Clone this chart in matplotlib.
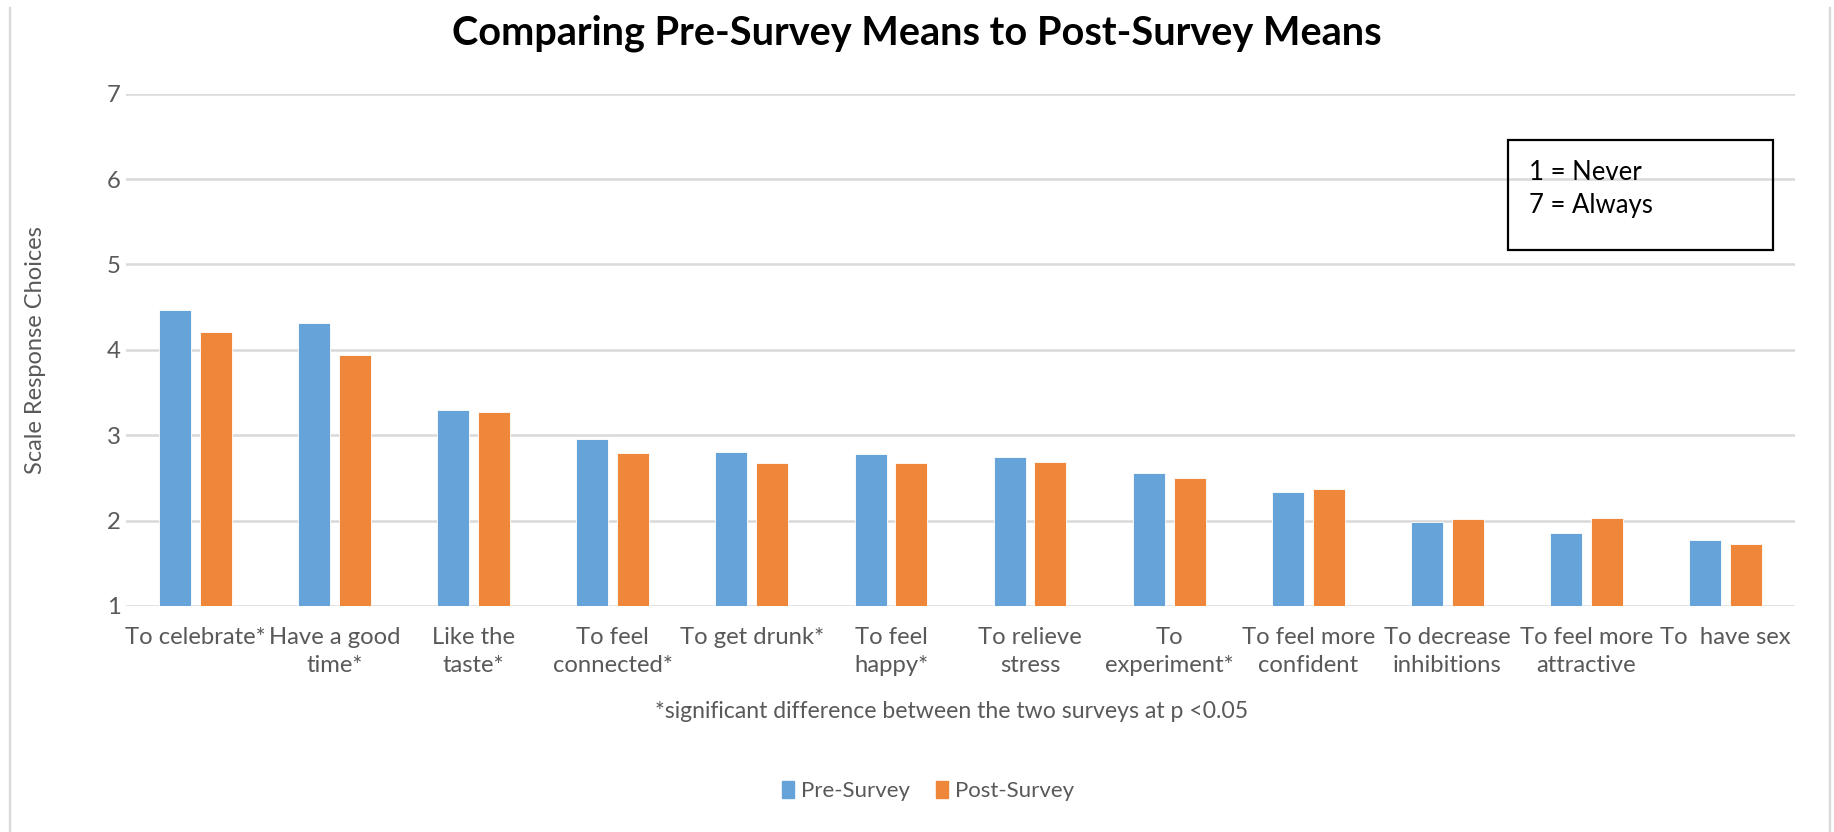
import numpy as np
import matplotlib
matplotlib.use("Agg")
import matplotlib.pyplot as plt
from matplotlib.patches import Rectangle
from matplotlib.lines import Line2D

plt.rcParams['font.family'] = ['Lato', 'DejaVu Sans']

categories = ["To celebrate*", "Have a good\ntime*", "Like the\ntaste*", "To feel\nconnected*",
              "To get drunk*", "To feel\nhappy*", "To relieve\nstress", "To\nexperiment*",
              "To feel more\nconfident", "To decrease\ninhibitions", "To feel more\nattractive",
              "To  have sex"]
pre_survey = [4.47, 4.31, 3.30, 2.95, 2.80, 2.78, 2.74, 2.56, 2.33, 1.98, 1.86, 1.77]
post_survey = [4.21, 3.94, 3.27, 2.79, 2.68, 2.68, 2.69, 2.50, 2.37, 2.02, 2.03, 1.73]
series_names = ["Pre-Survey", "Post-Survey"]
yticks = [1, 2, 3, 4, 5, 6, 7]

blue = '#66a3d9'
orange = '#ef873a'
gray = '#595959'

W, H = 1834, 832
fig = plt.figure(figsize=(W / 100, H / 100), dpi=100)
ax = fig.add_axes([126 / W, 1 - 606 / H, (1795 - 126) / W, (606 - 93.6) / H])

x = np.arange(len(categories))
bw = 0.23
ax.bar(x - 0.147, pre_survey, bw, color=blue, edgecolor='white', linewidth=0.6, zorder=3)
ax.bar(x + 0.147, post_survey, bw, color=orange, edgecolor='white', linewidth=0.6, zorder=3)

ax.set_xlim(-0.5, len(categories) - 0.5)
ax.set_ylim(1, 7)
ax.set_yticks(yticks)
ax.set_yticklabels([str(t) for t in yticks])
ax.grid(axis='y', color='#d9d9d9', linewidth=1.8, zorder=0)
ax.set_axisbelow(True)
for s in ax.spines.values():
    s.set_visible(False)
ax.tick_params(axis='both', length=0, labelsize=17.2, labelcolor=gray)
ax.tick_params(axis='y', pad=4)
ax.tick_params(axis='x', pad=15)
ax.set_xticks(x)
ax.set_xticklabels(categories, linespacing=1.45)
ax.set_ylabel("Scale Response Choices", fontsize=17, color=gray)
ax.yaxis.set_label_coords(-(126 - 46) / (1795 - 126), 0.5)

fig.text(0.5, 1 - 33 / H, "Comparing Pre-Survey Means to Post-Survey Means",
         ha='center', va='center', fontsize=28.5, fontweight='bold', color='black')

fig.text(952 / W, 1 - 712 / H, "*significant difference between the two surveys at p <0.05",
         ha='center', va='center', fontsize=16.6, color=gray)

# scale note box
fig.patches.append(Rectangle((1508 / W, 1 - 250 / H), (1773 - 1508) / W, 110 / H,
                             transform=fig.transFigure, fill=False, edgecolor='black',
                             linewidth=1.6))
fig.text(1529 / W, 1 - 172 / H, "1 = Never", ha='left', va='center', fontsize=18.5, color='black')
fig.text(1529 / W, 1 - 206 / H, "7 = Always", ha='left', va='center', fontsize=18.5, color='black')

# outer chart border (left and right sides visible)
for xb in (9.5, 1829.5):
    fig.lines.append(Line2D([xb / W, xb / W], [0, 1 - 8 / H], transform=fig.transFigure,
                            color='#d9d9d9', linewidth=1.7))

handles = [Rectangle((0, 0), 1, 1, color=blue), Rectangle((0, 0), 1, 1, color=orange)]
fig.legend(handles, series_names, loc='center', bbox_to_anchor=(928 / W, 1 - 791 / H),
           ncol=2, frameon=False, fontsize=16, labelcolor=gray, handlelength=0.55,
           handleheight=0.8, handletextpad=0.3, columnspacing=1.15)

fig.savefig("out.png", dpi=100)
